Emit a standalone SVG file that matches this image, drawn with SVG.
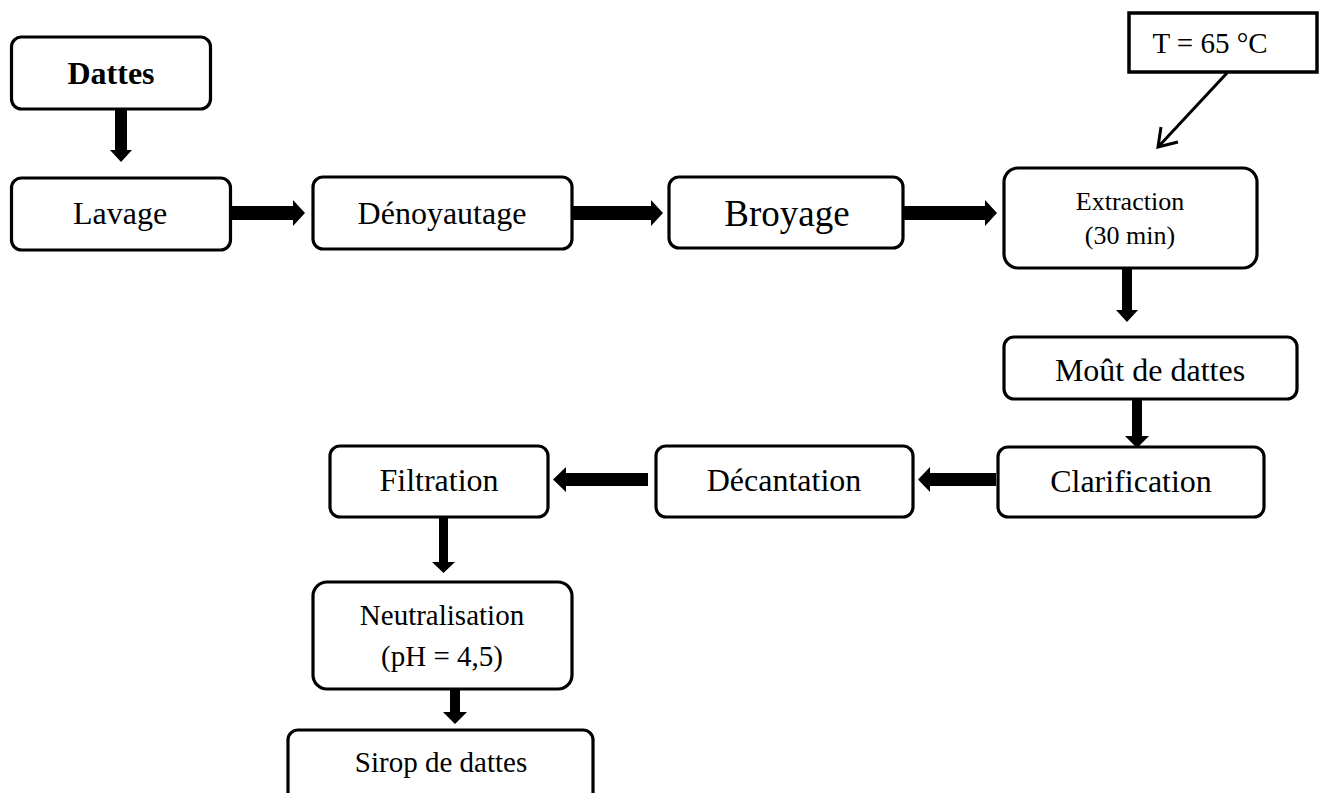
<svg xmlns="http://www.w3.org/2000/svg" width="1325" height="793" viewBox="0 0 1325 793">
<style>
.box{fill:#fff;stroke:#000;stroke-width:3.2}
.t{font-family:"Liberation Serif","Times New Roman",serif;fill:#000;text-anchor:middle}
.arr{fill:#000;stroke:none}
</style>
<rect width="1325" height="793" fill="#fff"/>
<g id="connectors">
<polygon class="arr" points="115,109 127,109 127,150 132,150 121,162 110,150 115,150"/>
<polygon class="arr" points="231,206 293,206 293,200 305,213 293,226 293,220 231,220"/>
<polygon class="arr" points="572,206 651,206 651,200 663,213 651,226 651,220 572,220"/>
<polygon class="arr" points="903,206 985,206 985,200 997,213 985,226 985,220 903,220"/>
<polygon class="arr" points="1122,268 1132,268 1132,310 1138,310 1127,322 1116,310 1122,310"/>
<polygon class="arr" points="1132,399 1142,399 1142,436 1149,436 1137,448 1125,436 1132,436"/>
<polygon class="arr" points="996,473 930,473 930,467 918,479.5 930,492 930,486 996,486"/>
<polygon class="arr" points="648,473 566,473 566,467 553,479.5 566,492 566,486 648,486"/>
<polygon class="arr" points="439,517 448,517 448,562 455,562 443.5,573 432,562 439,562"/>
<polygon class="arr" points="450,689 460,689 460,712 467,712 455,724 443,712 450,712"/>
<line x1="1227" y1="73" x2="1159" y2="146" stroke="#000" stroke-width="3"/>
<polyline points="1161,127 1158,147 1178,142" fill="none" stroke="#000" stroke-width="3"/>
</g>
<g id="dattes"><rect class="box" x="11.5" y="37" width="199" height="72" rx="10"/><text class="t" x="111" y="84" font-size="32" font-weight="bold">Dattes</text></g>
<g id="lavage"><rect class="box" x="11.5" y="178" width="219" height="72" rx="10"/><text class="t" x="120" y="224" font-size="32">Lavage</text></g>
<g id="denoyautage"><rect class="box" x="313" y="177" width="259" height="72" rx="10"/><text class="t" x="442" y="224" font-size="32">Dénoyautage</text></g>
<g id="broyage"><rect class="box" x="669" y="177" width="234" height="71" rx="10"/><text class="t" x="787" y="226" font-size="37">Broyage</text></g>
<g id="temp"><rect x="1129" y="13" width="188" height="59" fill="#fff" stroke="#000" stroke-width="3.5"/><text class="t" x="1210" y="53" font-size="29">T = 65 °C</text></g>
<g id="extraction"><rect class="box" x="1004" y="168" width="253" height="100" rx="14"/><text class="t" x="1130" y="210" font-size="26">Extraction</text><text class="t" x="1130" y="244" font-size="26">(30 min)</text></g>
<g id="mout"><rect class="box" x="1004" y="337" width="293" height="62" rx="10"/><text class="t" x="1150" y="381" font-size="32">Moût de dattes</text></g>
<g id="clarification"><rect class="box" x="998" y="447" width="266" height="70" rx="10"/><text class="t" x="1131" y="492" font-size="32">Clarification</text></g>
<g id="decantation"><rect class="box" x="656" y="446" width="257" height="71" rx="10"/><text class="t" x="784" y="491" font-size="32">Décantation</text></g>
<g id="filtration"><rect class="box" x="330" y="446" width="218" height="71" rx="10"/><text class="t" x="439" y="491" font-size="32">Filtration</text></g>
<g id="neutralisation"><rect class="box" x="313" y="582" width="259" height="107" rx="14"/><text class="t" x="442" y="625" font-size="29">Neutralisation</text><text class="t" x="442" y="666" font-size="29">(pH = 4,5)</text></g>
<g id="sirop"><rect class="box" x="288" y="730" width="305" height="80" rx="10"/><text class="t" x="441" y="772" font-size="29">Sirop de dattes</text></g>
</svg>
